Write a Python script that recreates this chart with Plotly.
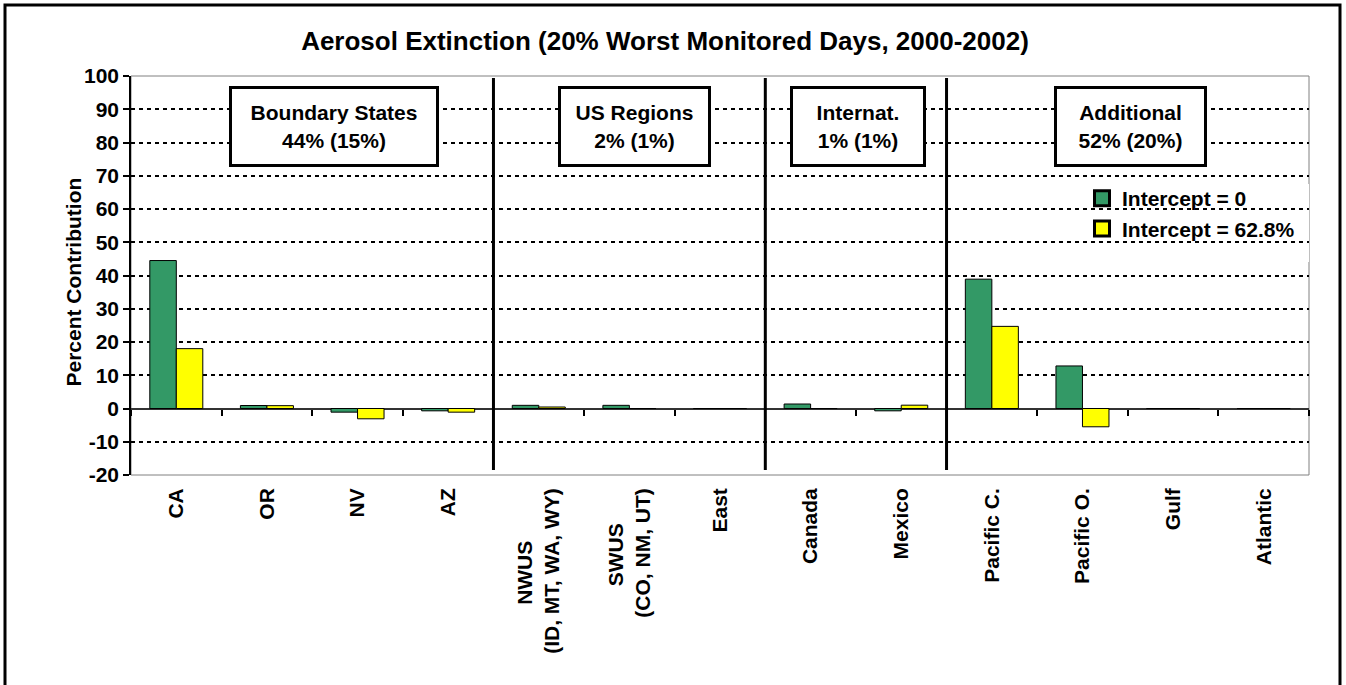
import plotly.graph_objects as go

# ---------------- data ----------------
categories = ["CA", "OR", "NV", "AZ",
              "NWUS<br>(ID, MT, WA, WY)", "SWUS<br>(CO, NM, UT)", "East",
              "Canada", "Mexico",
              "Pacific C.", "Pacific O.", "Gulf", "Atlantic"]
intercept_0 = [44.5, 0.9, -1.1, -0.7, 0.95, 0.95, 0.0, 1.35, -0.7, 38.9, 12.8, 0.0, 0.0]
intercept_628 = [18.0, 0.85, -3.1, -1.1, 0.45, 0.0, 0.0, 0.0, 1.0, 24.7, -5.5, 0.0, 0.0]
series_names = ["Intercept = 0", "Intercept = 62.8%"]
group_sizes = [4, 3, 2, 4]
group_labels = ["Boundary States<br>44% (15%)", "US Regions<br>2% (1%)",
                "Internat.<br>1% (1%)", "Additional<br>52% (20%)"]
y_tick_values = list(range(-20, 101, 10))
y_tick_text = [str(v) for v in y_tick_values]
title_text = "Aerosol Extinction (20% Worst Monitored Days, 2000-2002)"
y_title = "Percent Contribution"

# ---------------- style ----------------
FONT = "Liberation Sans, Arial, sans-serif"
GREEN = "#339966"
YELLOW = "#FFFF00"
W, H = 1346, 685
ML, MR, MT, MB = 131, 37, 76, 210
PW, PH = W - ML - MR, H - MT - MB
colors = [GREEN, YELLOW]
series = [intercept_0, intercept_628]

# centre the short first line of two-line (rotated) labels by padding it
pad_nbsp = {"NWUS<br>(ID, MT, WA, WY)": 9, "SWUS<br>(CO, NM, UT)": 6}
x_tick_text = []
for c in categories:
    if c in pad_nbsp:
        first, second = c.split("<br>")
        x_tick_text.append(first + "\u00a0" * pad_nbsp[c] + "<br>" + second)
    else:
        x_tick_text.append(c)

fig = go.Figure()
for name, vals, col in zip(series_names, series, colors):
    fig.add_trace(go.Bar(x=categories, y=vals, name=name, showlegend=False,
                         marker=dict(color=col, line=dict(color="black", width=1))))
# legend entries (square swatches like the original)
for name, col in zip(series_names, colors):
    fig.add_trace(go.Scatter(x=[None], y=[None], name=name, mode="markers",
                             marker=dict(symbol="square", size=15, color=col,
                                         line=dict(color="black", width=3))))
# helper trace for the tick-mark axis at zero
fig.add_trace(go.Scatter(x=[0], y=[0], xaxis="x2", mode="none",
                         showlegend=False, hoverinfo="skip"))

n = len(categories)
ymin, ymax = y_tick_values[0], y_tick_values[-1]

def px_x(p):
    return (p - ML) / PW

def px_y(p):
    return 1 - (p - MT) / PH

# group separators
b = -0.5
shapes = []
for s in group_sizes[:-1]:
    b += s
    shapes.append(dict(type="line", xref="x", yref="y", x0=b, x1=b, y0=-18.5, y1=99.4,
                       line=dict(color="black", width=3)))
# plot-area border
shapes.append(dict(type="rect", xref="paper", yref="paper", x0=0, x1=1, y0=0, y1=1,
                   line=dict(color="#808080", width=1), layer="below"))
# white legend text area (hides grid lines behind the legend text)
shapes.append(dict(type="rect", xref="paper", yref="paper",
                   x0=px_x(1114), x1=1, y0=px_y(262), y1=px_y(184),
                   fillcolor="white", line=dict(width=0), layer="between"))
# outer frame
shapes.append(dict(type="rect", xref="paper", yref="paper",
                   x0=px_x(5), x1=px_x(1340), y0=px_y(700), y1=px_y(5),
                   line=dict(color="black", width=3)))

annotations = []
box_x = [1.74, 5.06, 7.52, 10.53]
box_w = [210, 153, 136, 153]
for lab, bx, bw in zip(group_labels, box_x, box_w):
    annotations.append(dict(x=bx, y=84.8, xref="x", yref="y", text=lab, showarrow=False,
                            font=dict(family=FONT, size=21, color="black", weight="bold"),
                            bgcolor="white", bordercolor="black", borderwidth=3, borderpad=0,
                            width=bw - 6, height=81 - 6, align="center", valign="middle"))
annotations.append(dict(x=px_x(59), y=px_y(282), xref="paper", yref="paper",
                        text=y_title, textangle=-90, showarrow=False,
                        font=dict(family=FONT, size=21, color="black", weight="bold")))

fig.update_layout(
    width=W, height=H,
    margin=dict(l=ML, r=MR, t=MT, b=MB, autoexpand=False),
    paper_bgcolor="white", plot_bgcolor="white",
    title=dict(text=title_text, x=665 / W, xanchor="center", y=1 - 41 / H, yanchor="middle",
               font=dict(family=FONT, size=26, color="black", weight="bold")),
    barmode="group", bargap=0.415, bargroupgap=0,
    showlegend=True,
    legend=dict(x=px_x(1082), y=px_y(178), xanchor="left", yanchor="top",
                bgcolor="rgba(0,0,0,0)", borderwidth=0,
                font=dict(family=FONT, size=21, color="black", weight="bold")),
    xaxis=dict(type="category", categoryorder="array", categoryarray=categories,
               tickmode="array", tickvals=categories, ticktext=x_tick_text,
               range=[-0.5, n - 0.5], showgrid=False, zeroline=False, showline=False,
               ticks="", tickangle=-90, ticklabelstandoff=8,
               tickfont=dict(family=FONT, size=21, color="black", weight="bold")),
    xaxis2=dict(overlaying="x", anchor="free", side="bottom",
                position=(0 - ymin) / (ymax - ymin),
                range=[-0.5, n - 0.5], tickmode="array",
                tickvals=[i - 0.5 for i in range(n + 1)],
                ticks="outside", ticklen=6, tickwidth=1.5, tickcolor="black",
                showticklabels=False, showgrid=False, zeroline=False, showline=False),
    yaxis=dict(range=[ymin, ymax], tickmode="array", tickvals=y_tick_values,
               ticktext=y_tick_text,
               showgrid=True, gridcolor="black", gridwidth=1.5, griddash="4px,4px",
               zeroline=True, zerolinecolor="#333333", zerolinewidth=1.5,
               showline=True, linecolor="black", linewidth=1.5,
               ticks="outside", ticklen=6, tickwidth=1.5, tickcolor="black",
               tickfont=dict(family=FONT, size=21, color="black", weight="bold")),
    shapes=shapes, annotations=annotations,
)

fig.write_html("out.html", config={"displayModeBar": False},
               post_script="document.body.style.margin='0';document.body.style.overflow='hidden';")
